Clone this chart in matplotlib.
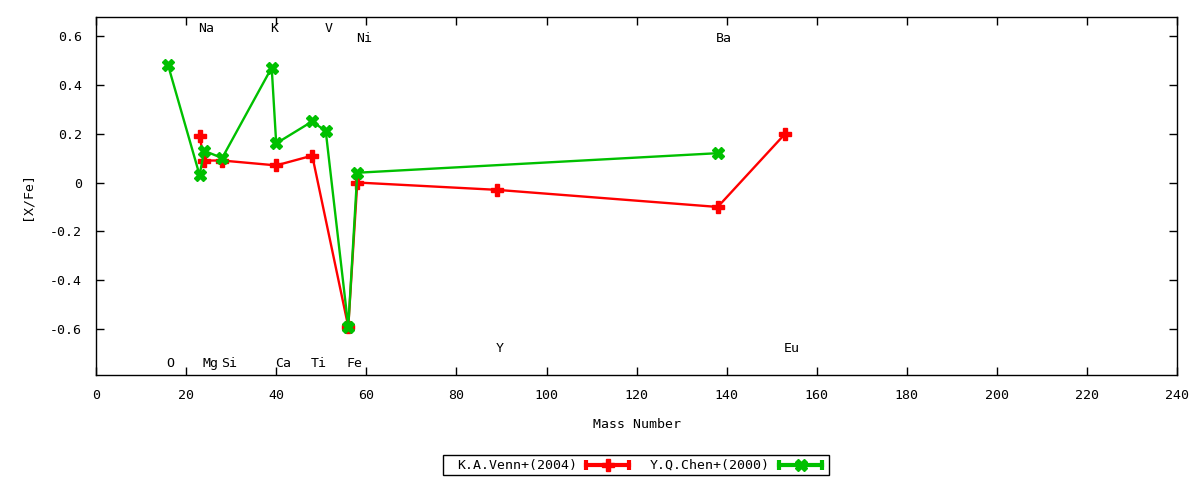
import matplotlib
matplotlib.use("Agg")
import matplotlib.pyplot as plt
from matplotlib.lines import Line2D
from matplotlib.patches import Rectangle

plt.rcParams['font.family'] = ['DejaVu Sans Mono']
plt.rcParams['font.size'] = 9.5

# K.A.Venn+(2004): Na Mg Si Ca Ti Fe Ni Y Ba Eu
venn_mass = [23, 24, 28, 40, 48, 56, 58, 89, 138, 153]
venn_xfe = [0.19, 0.09, 0.09, 0.07, 0.11, -0.59, 0.0, -0.03, -0.10, 0.20]

# Y.Q.Chen+(2000): O Na Mg Si K Ca Ti V Fe Ni Ba
chen_mass = [16, 23, 24, 28, 39, 40, 48, 51, 56, 58, 138]
chen_xfe = [0.48, 0.03, 0.13, 0.10, 0.47, 0.16, 0.25, 0.21, -0.59, 0.04, 0.12]

# element labels (name, x, y)
elem_names = ['Na', 'K', 'V', 'Ni', 'Ba', 'O', 'Mg', 'Si', 'Ca', 'Ti', 'Fe', 'Y', 'Eu']
elem_x = [23, 39, 51, 58, 138, 16, 24, 28, 40, 48, 56, 89, 153]
elem_y = [0.63, 0.63, 0.63, 0.59, 0.59, -0.74, -0.74, -0.74, -0.74, -0.74, -0.74, -0.68, -0.68]

red = '#ff0000'
green = '#00c000'

fig = plt.figure(figsize=(12, 4.8), dpi=100)
ax = fig.add_axes([0.080, 0.219, 0.901, 0.745])

ax.plot(venn_mass, venn_xfe, color=red, lw=1.7, marker='P', ms=8, mec=red, mfc=red)
ax.plot(chen_mass, chen_xfe, color=green, lw=1.7, marker='X', ms=8, mec=green, mfc=green)

for name, x, y in zip(elem_names, elem_x, elem_y):
    ax.text(x - 0.3, y, name, ha='left', va='center')

ax.set_xlim(0, 240)
ax.set_ylim(-0.787, 0.676)
ax.set_xticks(range(0, 241, 20))
ax.set_yticks([-0.6, -0.4, -0.2, 0, 0.2, 0.4, 0.6])
ax.set_yticklabels(['-0.6', '-0.4', '-0.2', '0', '0.2', '0.4', '0.6'])
ax.tick_params(direction='in', top=True, right=True, length=6, width=1, pad=10)
for s in ax.spines.values():
    s.set_linewidth(1)

ax.set_xlabel('Mass Number', labelpad=12)
ax.set_ylabel('[X/Fe]', labelpad=12)

# gnuplot-style key at the bottom
fig.add_artist(Rectangle((443 / 1200, 1 - 475 / 480), 386 / 1200, 20 / 480,
                         transform=fig.transFigure, fill=False, lw=1, ec='black'))
ky = 1 - 465 / 480
fig.text(577 / 1200, ky, 'K.A.Venn+(2004)', ha='right', va='center')
fig.text(770 / 1200, ky, 'Y.Q.Chen+(2000)', ha='right', va='center')
for (x0, x1, c, m) in [(586, 629, red, 'P'), (779, 822, green, 'X')]:
    fig.add_artist(Line2D([x0 / 1200, x1 / 1200], [ky, ky], transform=fig.transFigure,
                          color=c, lw=3, marker='|', ms=7, mew=3))
    fig.add_artist(Line2D([(x0 + x1) / 2400], [ky], transform=fig.transFigure,
                          color=c, marker=m, ms=8, mec=c, mfc=c, lw=0))

fig.savefig('out.png', dpi=100)
